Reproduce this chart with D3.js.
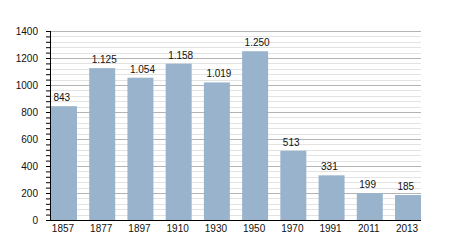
<!DOCTYPE html>
<html>
<head>
<meta charset="utf-8">
<script src="https://cdn.jsdelivr.net/npm/d3@7"></script>
<style>
  html, body { margin: 0; padding: 0; background: #fff; }
  svg { display: block; }
  text { font-family: "Liberation Sans", Arial, sans-serif; font-size: 10px; fill: #111; }
</style>
</head>
<body>
<svg id="chart" width="450" height="250"></svg>
<script>
const years = ["1857", "1877", "1897", "1910", "1930", "1950", "1970", "1991", "2011", "2013"];
const population = [843, 1125, 1054, 1158, 1019, 1250, 513, 331, 199, 185];
const valueLabels = ["843", "1.125", "1.054", "1.158", "1.019", "1.250", "513", "331", "199", "185"];
const majorTicks = [0, 200, 400, 600, 800, 1000, 1200, 1400];
const minorTicks = d3.range(0, 1401, 40);

const svg = d3.select("#chart");
const mLeft = 50, mRight = 421, mTop = 31, mBottom = 220;

const x = d3.scaleBand().domain(years).range([51, mRight]).paddingInner(0.32).paddingOuter(0);
const y = d3.scaleLinear().domain([0, 1400]).range([mBottom, mTop]);

// minor gridlines
svg.append("g").selectAll("line").data(minorTicks.filter(v => v % 200 !== 0)).join("line")
  .attr("x1", mLeft).attr("x2", mRight)
  .attr("y1", d => Math.round(y(d)) + 0.5).attr("y2", d => Math.round(y(d)) + 0.5)
  .attr("stroke", "#e3e3e3").attr("stroke-width", 1);
// major gridlines
svg.append("g").selectAll("line").data(majorTicks.filter(v => v > 0)).join("line")
  .attr("x1", mLeft).attr("x2", mRight)
  .attr("y1", d => Math.round(y(d)) + 0.5).attr("y2", d => Math.round(y(d)) + 0.5)
  .attr("stroke", "#b4b4b4").attr("stroke-width", 1);

// bars
svg.append("g").selectAll("rect").data(population).join("rect")
  .attr("x", (d, i) => x(years[i]))
  .attr("width", x.bandwidth())
  .attr("y", d => y(d))
  .attr("height", d => y(0) - y(d))
  .attr("fill", "#99b3cc");

// value labels
svg.append("g").selectAll("text").data(population).join("text")
  .attr("x", (d, i) => x(years[i]) + 2.5)
  .attr("y", d => y(d) - 5)
  .attr("text-anchor", "start")
  .text((d, i) => valueLabels[i]);

// y axis minor ticks
const yMinor = d3.axisLeft(y).tickValues(minorTicks).tickSize(4).tickFormat("");
svg.append("g").attr("transform", `translate(${mLeft},0)`).call(yMinor)
  .call(g => g.select(".domain").remove())
  .call(g => g.selectAll("line").attr("stroke", "#000"));

// y axis major
const yAxis = d3.axisLeft(y).tickValues(majorTicks).tickSize(4).tickPadding(8).tickFormat(d3.format("d"));
svg.append("g").attr("transform", `translate(${mLeft},0)`).call(yAxis)
  .call(g => g.select(".domain").attr("stroke", "#000").attr("d", `M0.5,${mTop}V${mBottom}`))
  .call(g => g.selectAll("line").attr("stroke", "#000"))
  .call(g => g.selectAll("text").attr("font-family", null).attr("font-size", null).attr("fill", "#111"));

// x axis
const xAxis = d3.axisBottom(x).tickSize(0).tickPadding(5);
svg.append("g").attr("transform", `translate(0,${mBottom})`).call(xAxis)
  .call(g => g.select(".domain").attr("stroke", "#000").attr("stroke-width", 1.2).attr("d", `M${mLeft},0.5H${mRight}`))
  .call(g => g.selectAll("text").attr("font-family", null).attr("font-size", null).attr("fill", "#111").attr("dx", -1));
</script>
</body>
</html>
